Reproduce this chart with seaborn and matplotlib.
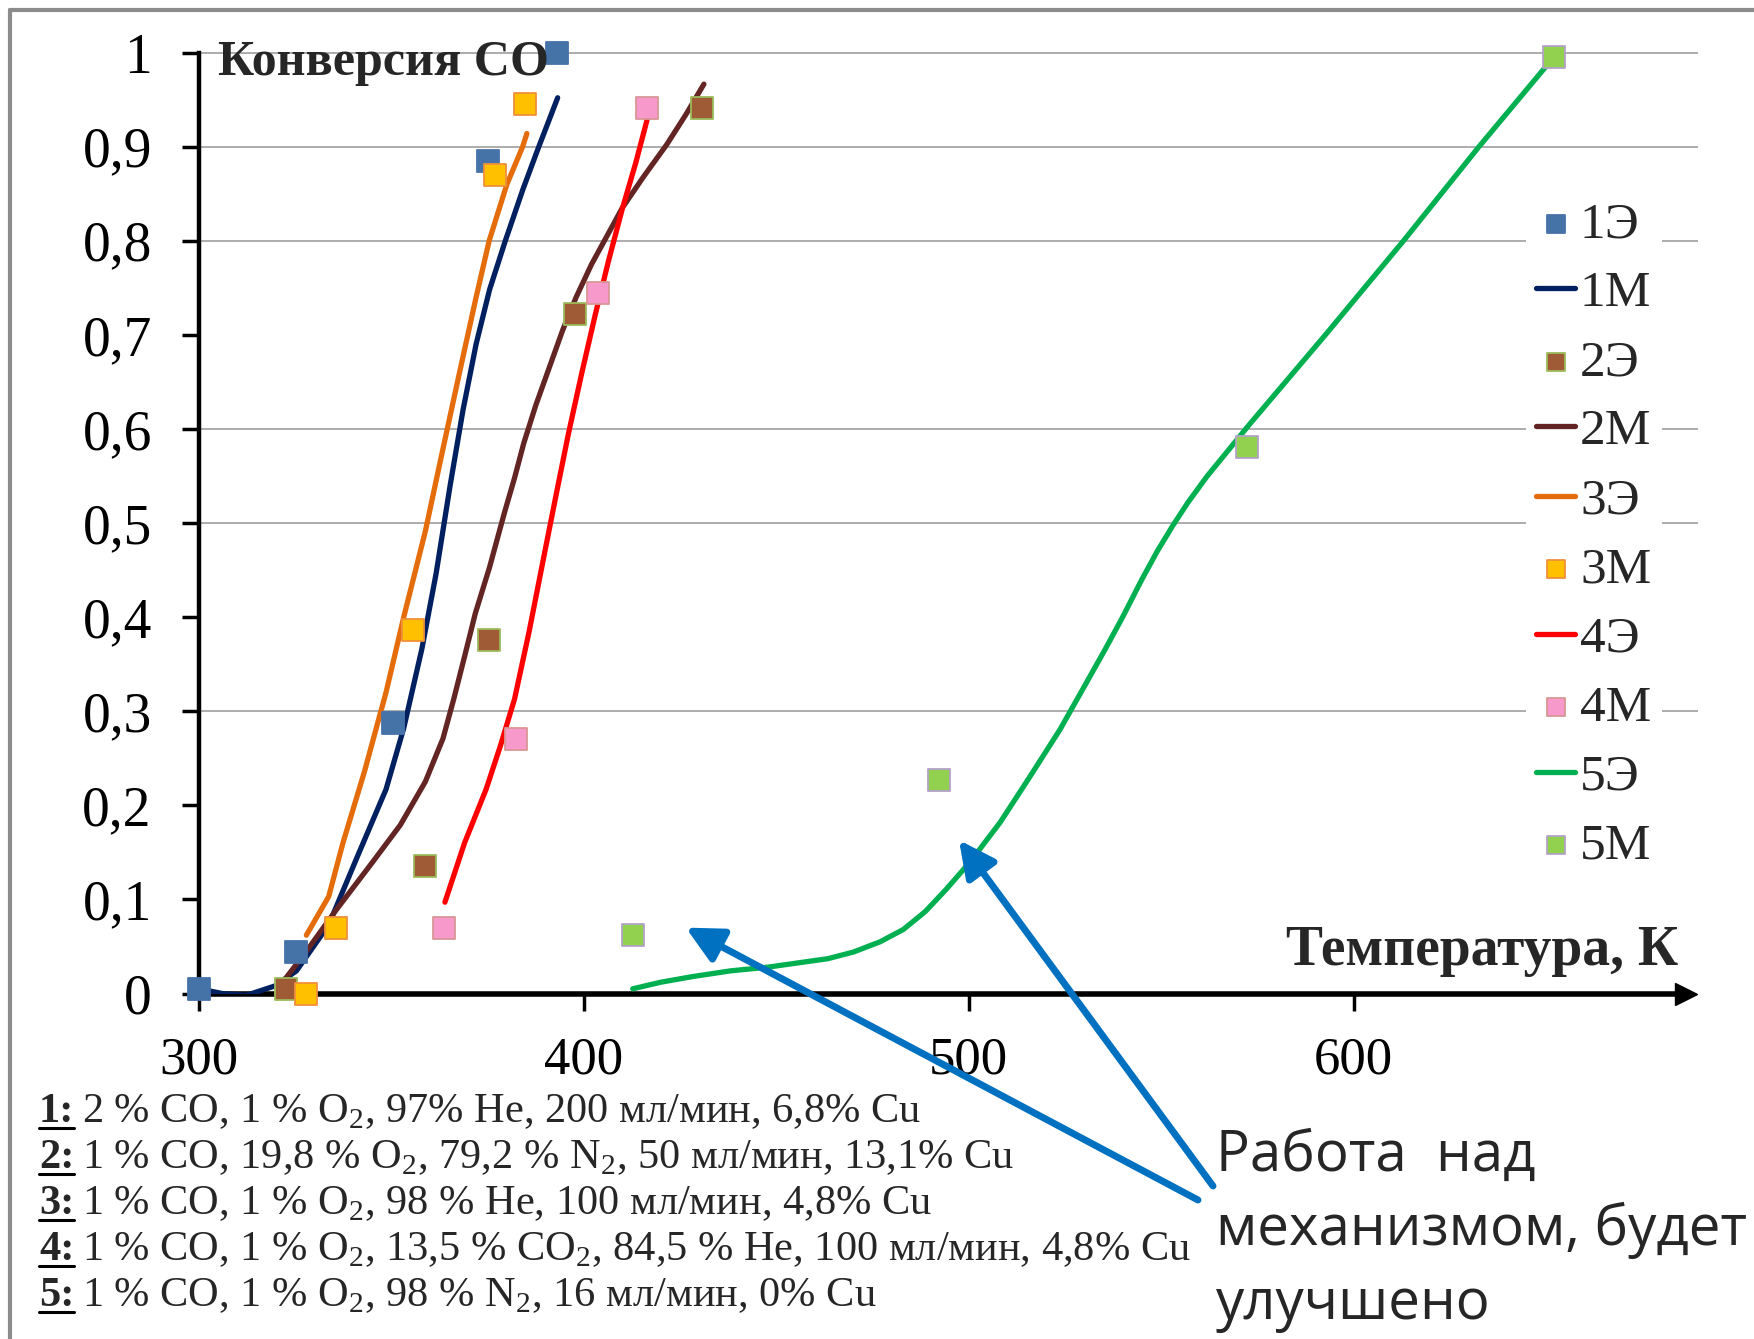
import matplotlib.pyplot as plt
import seaborn as sns
from matplotlib.lines import Line2D
from matplotlib.transforms import IdentityTransform

sns.set_style("white")
plt.rcParams["font.family"] = ["Liberation Serif", "DejaVu Serif"]
plt.rcParams["mathtext.fontset"] = "custom"
plt.rcParams["mathtext.rm"] = "Liberation Serif"

# experimental / model points (squares)
t_1e = [300, 325.3, 350.3, 375.0, 393.0]
c_1e = [0.005, 0.044, 0.287, 0.885, 1.0]
t_2e = [322.7, 358.7, 375.3, 397.7, 430.8]
c_2e = [0.005, 0.136, 0.376, 0.722, 0.941]
t_3m = [327.9, 335.5, 355.5, 377.0, 384.6]
c_3m = [0.0, 0.070, 0.386, 0.870, 0.945]
t_4m = [363.7, 382.3, 403.8, 416.3]
c_4m = [0.070, 0.271, 0.744, 0.941]
t_5m = [412.8, 492.4, 572.4, 652.0]
c_5m = [0.062, 0.227, 0.581, 0.995]

# curves
t_1m = [300, 306, 312.3, 319.7, 325.3, 333.7, 341.1, 348.6, 353.2, 357.9, 361.6,
        365.3, 368.6, 372.0, 375.5, 379.6, 384.2, 388.3, 393.2]
c_1m = [0.005, 0.0, -0.002, 0.008, 0.024, 0.073, 0.145, 0.217, 0.282, 0.366, 0.446,
        0.541, 0.62, 0.69, 0.748, 0.80, 0.855, 0.90, 0.952]
t_2m = [322.5, 328.1, 335.5, 344.8, 352.3, 358.8, 363.4, 366.2, 369.0, 371.8, 375.5,
        379.3, 382.0, 384.4, 387.5, 391.0, 394.5, 398.0, 402.0, 406.0, 410.0, 415.5,
        421.5, 426.5, 431.2]
c_2m = [0.016, 0.046, 0.088, 0.138, 0.179, 0.225, 0.271, 0.313, 0.358, 0.404, 0.453,
        0.510, 0.548, 0.585, 0.625, 0.665, 0.705, 0.74, 0.775, 0.805, 0.835, 0.868,
        0.902, 0.934, 0.9665]
t_3e = [327.9, 333.7, 337.4, 343.0, 348.6, 353.2, 358.8, 363.4, 367.7, 371.9, 375.4,
        380.0, 384.1, 385.2]
c_3e = [0.062, 0.103, 0.160, 0.236, 0.320, 0.400, 0.491, 0.579, 0.66, 0.738, 0.80,
        0.86, 0.90, 0.914]
t_4e = [363.9, 369.0, 374.6, 378.3, 382.0, 385.8, 389.5, 392.8, 396.0, 399.5, 403.0,
        406.5, 410.0, 413.5, 416.4]
c_4e = [0.097, 0.160, 0.217, 0.263, 0.313, 0.385, 0.462, 0.53, 0.595, 0.66, 0.722,
        0.78, 0.834, 0.883, 0.928]
t_5e = [412.7, 420, 428.3, 438, 447.8, 463.4, 470, 477.0, 483, 488.7, 494, 500.4,
        508.2, 516, 523.8, 530, 535.5, 540, 545, 549, 553, 557, 562, 573, 592.7, 613,
        632.6, 652]
c_5e = [0.005, 0.012, 0.018, 0.024, 0.028, 0.037, 0.044, 0.055, 0.068, 0.087, 0.11,
        0.140, 0.182, 0.231, 0.281, 0.326, 0.366, 0.40, 0.44, 0.47, 0.497, 0.522,
        0.55, 0.605, 0.70, 0.80, 0.90, 0.995]

square_series = [
    ("1Э", t_1e, c_1e, "#4572A7", "#4572A7"),
    ("2Э", t_2e, c_2e, "#9E5B36", "#9BBB59"),
    ("3М", t_3m, c_3m, "#FFC000", "#F0903A"),
    ("4М", t_4m, c_4m, "#F79ACB", "#D99694"),
    ("5М", t_5m, c_5m, "#92D050", "#B3A2C7"),
]
line_series = [
    ("1М", t_1m, c_1m, "#002060"),
    ("2М", t_2m, c_2m, "#632523"),
    ("3Э", t_3e, c_3e, "#E46C0A"),
    ("4Э", t_4e, c_4e, "#FF0000"),
    ("5Э", t_5e, c_5e, "#00B050"),
]
legend_order = ["1Э", "1М", "2Э", "2М", "3Э", "3М", "4Э", "4М", "5Э", "5М"]

x_ticks = [300, 400, 500, 600]
y_ticks = [0, 0.1, 0.2, 0.3, 0.4, 0.5, 0.6, 0.7, 0.8, 0.9, 1.0]
y_tick_labels = ["0", "0,1", "0,2", "0,3", "0,4", "0,5", "0,6", "0,7", "0,8", "0,9", "1"]
grid_levels = [0.3, 0.5, 0.6, 0.8, 0.9, 1.0]

conditions = [
    ("1:", r"2 % CO, 1 % O$_\mathrm{2}$, 97% He, 200 мл/мин, 6,8% Cu"),
    ("2:", r"1 % CO, 19,8 % O$_\mathrm{2}$, 79,2 % N$_\mathrm{2}$, 50 мл/мин, 13,1% Cu"),
    ("3:", r"1 % CO, 1 % O$_\mathrm{2}$, 98 % He, 100 мл/мин, 4,8% Cu"),
    ("4:", r"1 % CO, 1 % O$_\mathrm{2}$, 13,5 % CO$_\mathrm{2}$, 84,5 % He, 100 мл/мин, 4,8% Cu"),
    ("5:", r"1 % CO, 1 % O$_\mathrm{2}$, 98 % N$_\mathrm{2}$, 16 мл/мин, 0% Cu"),
]
note_lines = ["Работа  над", "механизмом, будет", "улучшено"]
arrow_heads = [(426.5, 0.070), (497.5, 0.163)]
arrow_tails = [(1198, 139), (1213, 153)]  # figure pixels

W, H = 1754, 1339
fig = plt.figure(figsize=(W / 100, H / 100), dpi=100)
ax = fig.add_axes([199 / W, 1 - 993.5 / H, (1686 - 199) / W, (993.5 - 52.6) / H])
ax.set_xlim(300, 686.4)
ax.set_ylim(0, 1.0)

ax.hlines(grid_levels, 300, 689.5, color="#A6A6A6", lw=1.3, zorder=0, clip_on=False)

for name, t, c, col in line_series:
    sns.lineplot(x=t, y=c, color=col, linewidth=3.8, label=name, ax=ax, zorder=3,
                 solid_joinstyle="round", solid_capstyle="round")
for name, t, c, face, edge in square_series:
    sns.scatterplot(x=t, y=c, marker="s", s=240, color=face, edgecolor=edge,
                    linewidth=1.3, label=name, ax=ax, zorder=5, clip_on=False)

ax.spines[["top", "right"]].set_visible(False)
ax.spines["left"].set_linewidth(3.2)
ax.spines["bottom"].set_linewidth(4)
ax.spines["left"].set_color("black")
ax.spines["bottom"].set_color("black")
ax.set_xticks(x_ticks)
ax.set_yticks(y_ticks)
ax.set_yticklabels(y_tick_labels)
ax.tick_params(axis="y", left=True, direction="out", length=12, width=2.5, pad=22,
               labelsize=40, colors="black")
ax.tick_params(axis="x", bottom=True, direction="out", length=12, width=2.5, pad=19,
               labelsize=38, colors="black")
ax.set_xlabel("")
ax.set_ylabel("")
ax.plot(1, 0, ">", color="black", ms=16, transform=ax.get_yaxis_transform(), clip_on=False)
ax.plot(0, 1, "^", color="black", ms=12, transform=ax.get_xaxis_transform(), clip_on=False)

handles, labels = ax.get_legend_handles_labels()
lookup = dict(zip(labels, handles))
ax.legend([lookup[k] for k in legend_order], legend_order, loc="upper left",
          bbox_to_anchor=(1526 / W, 1 - 191 / H), bbox_transform=fig.transFigure,
          fontsize=37, frameon=True, framealpha=1, edgecolor="none", facecolor="white",
          fancybox=False, handlelength=0.75, handletextpad=0.1, labelspacing=0.43,
          borderpad=0.2, borderaxespad=0, markerscale=0.8)

fig.text(218 / W, 1 - 63 / H, "Конверсия СО", fontsize=36, fontweight="bold", va="center")
fig.text(1678 / W, 1 - 951 / H, "Температура, К", fontsize=40, fontweight="bold",
         ha="right", va="center")

for (hx, hy), (tx, ty) in zip(arrow_heads, arrow_tails):
    ax.annotate("", xy=(hx, hy), xycoords="data", xytext=(tx, ty),
                textcoords="figure pixels", annotation_clip=False,
                arrowprops=dict(arrowstyle="-|>,head_length=1.1,head_width=0.55",
                                mutation_scale=20, color="#0070C0", lw=5,
                                shrinkA=0, shrinkB=0))

for i, line in enumerate(note_lines):
    fig.text(1216 / W, 1 - (1171 + 74 * i) / H, line, fontsize=40.6,
             family=["Open Sans", "DejaVu Sans"], va="baseline")

renderer = fig.canvas.get_renderer()
for i, (num, rest) in enumerate(conditions):
    yb = H - (1122 + 46 * i)
    t1 = fig.text(39 / W, yb / H, num, fontsize=30.5, fontweight="bold", va="baseline")
    bb = t1.get_window_extent(renderer)
    fig.add_artist(Line2D([bb.x0, bb.x1], [yb - 6, yb - 6], color="black", lw=2.2,
                          transform=IdentityTransform()))
    fig.text((bb.x1 + 8) / W, yb / H, rest, fontsize=30.5, va="baseline")

frame_kw = dict(color="#8C8C8C", lw=3)
fig.add_artist(Line2D([10 / W, 1], [1 - 10 / H, 1 - 10 / H], **frame_kw))
fig.add_artist(Line2D([10 / W, 10 / W], [0, 1 - 10 / H], **frame_kw))

fig.savefig("out.png", dpi=100)
